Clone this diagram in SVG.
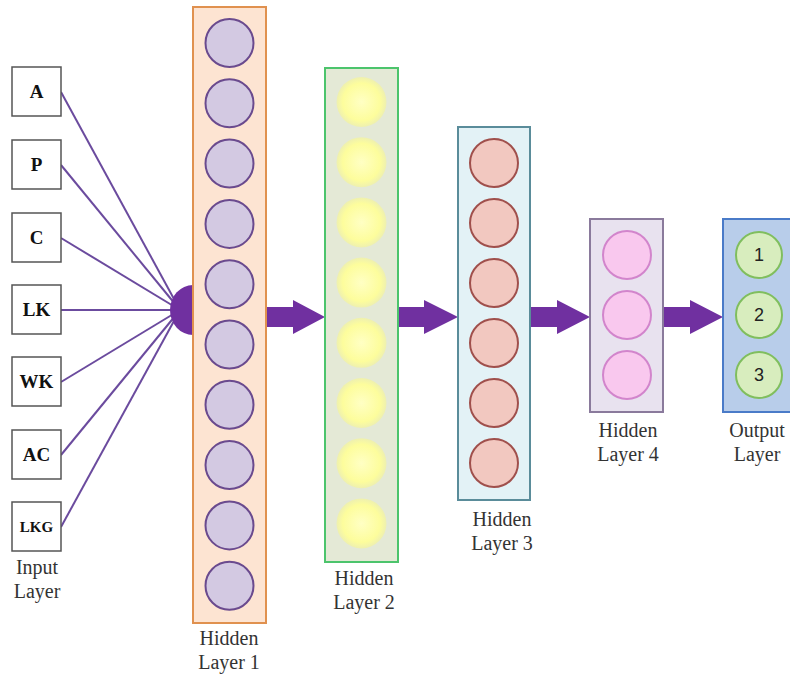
<svg xmlns="http://www.w3.org/2000/svg" width="790" height="678" viewBox="0 0 790 678">
<defs>
<radialGradient id="yel" cx="50%" cy="50%" r="50%">
<stop offset="0%" stop-color="#ffffc4"/>
<stop offset="75%" stop-color="#fdfd9c"/>
<stop offset="100%" stop-color="#eef0b0"/>
</radialGradient>
<style>
.inbox{fill:#fff;stroke:#555;stroke-width:1.5}
.intxt{font-family:"Liberation Serif",serif;font-weight:bold;font-size:19px;fill:#111;text-anchor:middle}
.lbl{font-family:"Liberation Serif",serif;font-size:20px;fill:#333;text-anchor:middle}
.c1{fill:#d3c9e2;stroke:#6a4a8e;stroke-width:2}
.c2{fill:url(#yel);stroke:none}
.c3{fill:#f2c8c0;stroke:#a0504c;stroke-width:2}
.c4{fill:#f9c8ee;stroke:#d285cc;stroke-width:2}
.c5{fill:#d8edbe;stroke:#80be5e;stroke-width:2}
.num{font-family:"Liberation Sans",Arial,sans-serif;font-size:18px;fill:#222;text-anchor:middle}
.wire{stroke:#6b4b9e;stroke-width:2;fill:none}
.arr{fill:#7030a0}
</style>
</defs>
<rect width="790" height="678" fill="#fff"/>

<g id="connectors">
<line class="wire" x1="61" y1="92" x2="180" y2="310"/>
<line class="wire" x1="61" y1="165" x2="180" y2="310"/>
<line class="wire" x1="61" y1="238" x2="180" y2="310"/>
<line class="wire" x1="61" y1="310" x2="180" y2="310"/>
<line class="wire" x1="61" y1="382" x2="180" y2="310"/>
<line class="wire" x1="61" y1="455" x2="180" y2="310"/>
<line class="wire" x1="61" y1="527" x2="180" y2="310"/>
<path class="arr" d="M193,285 A23,25 0 0,0 193,335 Z"/>
<path class="arr" d="M266,307 H293 V300 L325,317 L293,334 V327 H266 Z"/>
<path class="arr" d="M398,307 H424 V300 L458,317 L424,334 V327 H398 Z"/>
<path class="arr" d="M530,307 H557 V300 L590,317 L557,334 V327 H530 Z"/>
<path class="arr" d="M663,307 H690 V300 L723,317 L690,334 V327 H663 Z"/>
</g>

<g id="input-layer">
<rect class="inbox" x="12" y="67" width="49" height="49"/><text class="intxt" x="36.5" y="98">A</text>
<rect class="inbox" x="12" y="140" width="49" height="49"/><text class="intxt" x="36.5" y="171">P</text>
<rect class="inbox" x="12" y="213" width="49" height="49"/><text class="intxt" x="36.5" y="244">C</text>
<rect class="inbox" x="12" y="285" width="49" height="49"/><text class="intxt" x="36.5" y="316">LK</text>
<rect class="inbox" x="12" y="357" width="49" height="49"/><text class="intxt" x="36.5" y="388">WK</text>
<rect class="inbox" x="12" y="430" width="49" height="49"/><text class="intxt" x="36.5" y="461">AC</text>
<rect class="inbox" x="12" y="502" width="49" height="49"/><text class="intxt" x="36.5" y="532" style="font-size:15px">LKG</text>
<text class="lbl" x="37" y="574">Input</text>
<text class="lbl" x="37" y="598">Layer</text>
</g>

<g id="hidden-layer-1">
<rect x="193" y="7" width="73" height="616" fill="#fde4d2" stroke="#e0914f" stroke-width="2"/>
<circle class="c1" cx="229.5" cy="43" r="24"/>
<circle class="c1" cx="229.5" cy="103.3" r="24"/>
<circle class="c1" cx="229.5" cy="163.6" r="24"/>
<circle class="c1" cx="229.5" cy="223.9" r="24"/>
<circle class="c1" cx="229.5" cy="284.2" r="24"/>
<circle class="c1" cx="229.5" cy="344.5" r="24"/>
<circle class="c1" cx="229.5" cy="404.8" r="24"/>
<circle class="c1" cx="229.5" cy="465.1" r="24"/>
<circle class="c1" cx="229.5" cy="525.4" r="24"/>
<circle class="c1" cx="229.5" cy="585.7" r="24"/>
<text class="lbl" x="229" y="645">Hidden</text>
<text class="lbl" x="229" y="669">Layer 1</text>
</g>

<g id="hidden-layer-2">
<rect x="325" y="68" width="73" height="494" fill="#e4e9d6" stroke="#4cc46c" stroke-width="2"/>
<circle class="c2" cx="361.5" cy="102" r="25"/>
<circle class="c2" cx="361.5" cy="162.2" r="25"/>
<circle class="c2" cx="361.5" cy="222.4" r="25"/>
<circle class="c2" cx="361.5" cy="282.6" r="25"/>
<circle class="c2" cx="361.5" cy="342.8" r="25"/>
<circle class="c2" cx="361.5" cy="403" r="25"/>
<circle class="c2" cx="361.5" cy="463.2" r="25"/>
<circle class="c2" cx="361.5" cy="523.4" r="25"/>
<text class="lbl" x="364" y="585">Hidden</text>
<text class="lbl" x="364" y="609">Layer 2</text>
</g>

<g id="hidden-layer-3">
<rect x="458" y="127" width="72" height="373" fill="#e3f2f6" stroke="#5a8c9a" stroke-width="2"/>
<circle class="c3" cx="494" cy="163" r="24"/>
<circle class="c3" cx="494" cy="223" r="24"/>
<circle class="c3" cx="494" cy="283" r="24"/>
<circle class="c3" cx="494" cy="343" r="24"/>
<circle class="c3" cx="494" cy="403" r="24"/>
<circle class="c3" cx="494" cy="463" r="24"/>
<text class="lbl" x="502" y="526">Hidden</text>
<text class="lbl" x="502" y="550">Layer 3</text>
</g>

<g id="hidden-layer-4">
<rect x="590" y="219" width="73" height="193" fill="#e8e2ef" stroke="#8a7a9c" stroke-width="2"/>
<circle class="c4" cx="627" cy="255" r="24"/>
<circle class="c4" cx="627" cy="315" r="24"/>
<circle class="c4" cx="627" cy="375" r="24"/>
<text class="lbl" x="628" y="437">Hidden</text>
<text class="lbl" x="628" y="461">Layer 4</text>
</g>

<g id="output-layer">
<rect x="723" y="219" width="70" height="193" fill="#b8cdea" stroke="#4a7bc8" stroke-width="2"/>
<circle class="c5" cx="759" cy="255" r="23"/>
<circle class="c5" cx="759" cy="315" r="23"/>
<circle class="c5" cx="759" cy="375" r="23"/>
<text class="num" x="759" y="261">1</text>
<text class="num" x="759" y="321">2</text>
<text class="num" x="759" y="381">3</text>
<text class="lbl" x="757" y="437">Output</text>
<text class="lbl" x="757" y="461">Layer</text>
</g>
</svg>
